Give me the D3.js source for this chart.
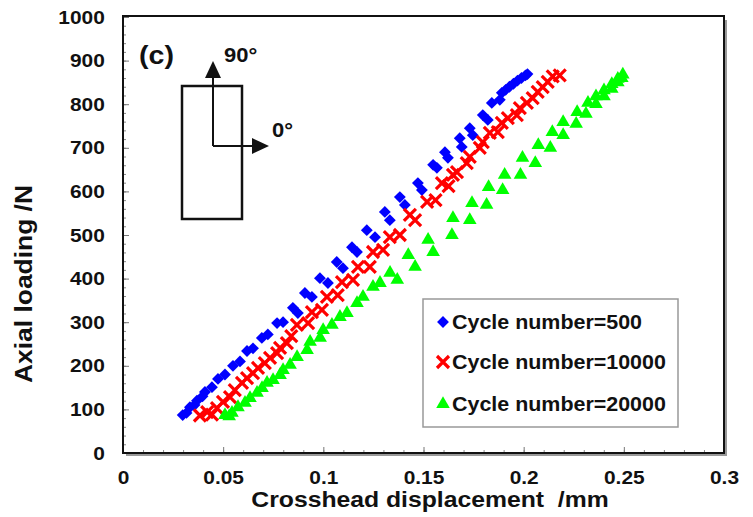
<!DOCTYPE html>
<html>
<head>
<meta charset="UTF-8">
<script src="https://d3js.org/d3.v7.min.js"></script>
<style>
    body { margin: 0; background: #fff; }
    svg text { font-family: "Liberation Sans", Arial, sans-serif; font-weight: bold; fill: #111; white-space: pre; }
</style>
</head>
<body>
<svg id="chart" width="753" height="517"></svg>
<script>
// series values: [displacement mm, load N]
const cycle500 = [
    [0.0298, 87], [0.0317, 92], [0.0334, 105], [0.0357, 110], [0.0369, 120], [0.0397, 130],
    [0.0409, 140], [0.0444, 151], [0.0474, 170], [0.0509, 180], [0.0549, 200], [0.0584, 210],
    [0.0619, 234], [0.0649, 240], [0.0693, 264], [0.0723, 272], [0.0769, 298], [0.0799, 300],
    [0.0848, 333], [0.0873, 321], [0.0908, 367], [0.0943, 358], [0.0983, 401], [0.1023, 390],
    [0.1067, 438], [0.1098, 424], [0.1143, 472], [0.1168, 461], [0.1217, 511], [0.1258, 495],
    [0.1307, 553], [0.1332, 534], [0.1382, 587], [0.1407, 569], [0.1472, 619], [0.1492, 603],
    [0.1548, 661], [0.1567, 654], [0.1607, 690], [0.1622, 677], [0.1681, 722], [0.1691, 702],
    [0.1731, 745], [0.1746, 729], [0.1796, 775], [0.1821, 764], [0.1841, 803], [0.1881, 810],
    [0.1891, 826], [0.1910, 833], [0.1929, 840], [0.1949, 847], [0.1969, 854], [0.1989, 860],
    [0.2009, 866], [0.2019, 869]
];
const cycle10000 = [
    [0.0384, 86], [0.0420, 94], [0.0444, 88], [0.0469, 103], [0.0499, 117], [0.0534, 128],
    [0.0558, 144], [0.0594, 161], [0.0619, 172], [0.0649, 183], [0.0674, 195], [0.0708, 206],
    [0.0734, 218], [0.0769, 229], [0.0784, 241], [0.0818, 252], [0.0840, 268], [0.0868, 294],
    [0.0924, 298], [0.0943, 323], [0.0993, 328], [0.1018, 358], [0.1072, 362], [0.1093, 392],
    [0.1148, 397], [0.1173, 427], [0.1232, 427], [0.1248, 461], [0.1298, 466], [0.1332, 495],
    [0.1382, 500], [0.1432, 546], [0.1458, 534], [0.1518, 576], [0.1560, 580], [0.1592, 619],
    [0.1625, 612], [0.1647, 638], [0.1667, 644], [0.1716, 665], [0.1731, 679], [0.1781, 700],
    [0.1796, 713], [0.1831, 734], [0.1871, 736], [0.1891, 757], [0.1921, 768], [0.1966, 775],
    [0.1981, 791], [0.2016, 803], [0.2045, 814], [0.2070, 828], [0.2095, 839], [0.2120, 851],
    [0.2145, 864], [0.2180, 866]
];
const cycle20000 = [
    [0.0509, 87], [0.0530, 84], [0.0544, 92], [0.0574, 105], [0.0609, 115], [0.0634, 126],
    [0.0669, 138], [0.0694, 149], [0.0719, 161], [0.0749, 167], [0.0784, 179], [0.0799, 190],
    [0.0834, 202], [0.0869, 220], [0.0919, 236], [0.0934, 255], [0.0984, 264], [0.0999, 282],
    [0.1043, 294], [0.1083, 312], [0.1118, 321], [0.1168, 344], [0.1198, 358], [0.1248, 381],
    [0.1283, 390], [0.1333, 413], [0.1369, 397], [0.1424, 454], [0.1458, 427], [0.1523, 489],
    [0.1548, 461], [0.1647, 539], [0.1642, 500], [0.1742, 573], [0.1731, 534], [0.1825, 610],
    [0.1815, 569], [0.1905, 638], [0.1895, 603], [0.1994, 677], [0.1984, 638], [0.2073, 706],
    [0.2058, 665], [0.2143, 736], [0.2133, 700], [0.2197, 759], [0.2197, 729], [0.2267, 782],
    [0.2262, 755], [0.2321, 803], [0.2311, 778], [0.2361, 818], [0.2361, 800], [0.2401, 832],
    [0.2401, 818], [0.2440, 846], [0.2440, 835], [0.2470, 858], [0.2470, 850], [0.2495, 868],
    [0.2490, 860]
];
const seriesNames = ["Cycle number=500", "Cycle number=10000", "Cycle number=20000"];
const xTicks = [0, 0.05, 0.1, 0.15, 0.2, 0.25, 0.3];
const yTicks = [0, 100, 200, 300, 400, 500, 600, 700, 800, 900, 1000];

const svg = d3.select("#chart");
const plotL = 123, plotR = 724, plotT = 17, plotB = 453;

const x = d3.scaleLinear().domain([0, 0.3]).range([plotL, plotR]);
const y = d3.scaleLinear().domain([0, 1000]).range([plotB, plotT]);

// text a bit wider than normal, like the picture
function label(parent, px, py, s, size, anchor, rot) {
    return parent.append("text")
        .attr("transform", "translate(" + px + "," + py + ")" + (rot ? " rotate(" + rot + ")" : "") + " scale(1.1,1)")
        .attr("text-anchor", anchor || "start")
        .style("font-size", size + "px")
        .text(s);
}

// minor ticks
svg.append("g")
    .attr("transform", "translate(0," + plotB + ")")
    .call(d3.axisBottom(x).ticks(30).tickSize(-3).tickFormat(""))
    .call(g => g.select(".domain").remove())
    .call(g => g.selectAll("line").attr("stroke", "#888"));
svg.append("g")
    .attr("transform", "translate(" + plotL + ",0)")
    .call(d3.axisLeft(y).ticks(50).tickSize(-3).tickFormat(""))
    .call(g => g.select(".domain").remove())
    .call(g => g.selectAll("line").attr("stroke", "#888"));

// major ticks + labels
const xAxis = svg.append("g")
    .attr("transform", "translate(0," + plotB + ")")
    .call(d3.axisBottom(x).tickValues(xTicks).tickSize(-6).tickPadding(18).tickFormat(d => d));
xAxis.select(".domain").remove();
xAxis.selectAll("line").attr("stroke", "#777");
xAxis.selectAll("text").style("font-size", "19px").attr("fill", "#111")
    .attr("transform", "scale(1.1,1)");

const yAxis = svg.append("g")
    .attr("transform", "translate(" + plotL + ",0)")
    .call(d3.axisLeft(y).tickValues(yTicks).tickSize(-6).tickPadding(16.5).tickFormat(d => d));
yAxis.select(".domain").remove();
yAxis.selectAll("line").attr("stroke", "#777");
yAxis.selectAll("text").style("font-size", "19px").attr("fill", "#111")
    .attr("transform", "scale(1.1,1)");

// plot frame with a little shadow
svg.append("path")
    .attr("d", "M" + (plotR + 2) + "," + (plotT + 3) + "V" + (plotB + 2) + "H" + (plotL + 3))
    .attr("fill", "none").attr("stroke", "#999").attr("stroke-width", 2);
svg.append("rect")
    .attr("x", plotL).attr("y", plotT - 1)
    .attr("width", plotR - plotL).attr("height", plotB - plotT + 1)
    .attr("fill", "none").attr("stroke", "#111").attr("stroke-width", 2);

// markers
const diamond = d3.symbol().type(d3.symbolSquare).size(70)();
const triangle = d3.symbol().type(d3.symbolTriangle).size(80)();
const cross = "M-6,-6L6,6M-6,6L6,-6";

svg.append("g").selectAll("path").data(cycle500).join("path")
    .attr("d", diamond)
    .attr("transform", d => "translate(" + x(d[0]) + "," + y(d[1]) + ") rotate(45)")
    .attr("fill", "#0000ff");
svg.append("g").selectAll("path").data(cycle10000).join("path")
    .attr("d", cross)
    .attr("transform", d => "translate(" + x(d[0]) + "," + y(d[1]) + ")")
    .attr("fill", "none").attr("stroke", "#ff0000").attr("stroke-width", 3.2);
svg.append("g").selectAll("path").data(cycle20000).join("path")
    .attr("d", triangle)
    .attr("transform", d => "translate(" + x(d[0]) + "," + y(d[1]) + ")")
    .attr("fill", "#00ff00");

// legend
const lg = svg.append("g");
lg.append("rect").attr("x", 423).attr("y", 299).attr("width", 255).attr("height", 128)
    .attr("fill", "#fff").attr("stroke", "#999").attr("stroke-width", 1.5);
const rows = [322, 362, 404];
lg.append("path").attr("d", diamond).attr("transform", "translate(443," + rows[0] + ") rotate(45)").attr("fill", "#0000ff");
lg.append("path").attr("d", cross).attr("transform", "translate(443," + rows[1] + ")")
    .attr("fill", "none").attr("stroke", "#ff0000").attr("stroke-width", 3.2);
lg.append("path").attr("d", triangle).attr("transform", "translate(443," + rows[2] + ")").attr("fill", "#00ff00");
seriesNames.forEach((s, i) => label(lg, 452, rows[i] + 7, s, 19.5, "start"));

// axis titles
label(svg, 430, 507, "Crosshead displacement  /mm", 22.5, "middle");
label(svg, 32, 284, "Axial loading /N", 24, "middle", -90);

// inset: panel letter and fibre directions
label(svg, 139, 64, "(c)", 26, "start");
svg.append("rect").attr("x", 182).attr("y", 86).attr("width", 60).attr("height", 133)
    .attr("fill", "none").attr("stroke", "#111").attr("stroke-width", 2.5);
svg.append("path").attr("d", "M213,146V76M213,146H254")
    .attr("fill", "none").attr("stroke", "#111").attr("stroke-width", 2);
svg.append("path").attr("d", "M213,61L205,78L221,78Z").attr("fill", "#111");
svg.append("path").attr("d", "M269,146L252,138L252,154Z").attr("fill", "#111");
label(svg, 224, 62, "90°", 20, "start");
label(svg, 272, 137, "0°", 20, "start");
</script>
</body>
</html>
